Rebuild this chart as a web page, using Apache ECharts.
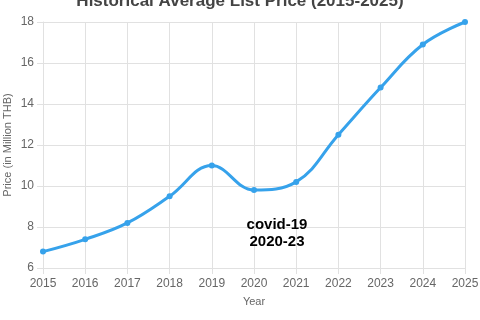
<!DOCTYPE html>
<html><head><meta charset="utf-8">
<script src="https://cdn.jsdelivr.net/npm/echarts@6/dist/echarts.min.js"></script>
<style>html,body{margin:0;padding:0;background:#fff}#c{width:480px;height:320px}</style>
</head><body><div id="c"></div>
<script>
const years = ['2015','2016','2017','2018','2019','2020','2021','2022','2023','2024','2025'];
const prices = [6.8, 7.4, 8.2, 9.5, 11.0, 9.8, 10.2, 12.5, 14.8, 16.9, 18.0];
const titleText = 'Historical Average List Price (2015-2025)';
const annotationLines = ['covid-19', '2020-23'];

const chart = echarts.init(document.getElementById('c'));
const grid = '#e1e1e1';
chart.setOption({
  animation: false,
  title: {text: titleText, left: 'center', top: -12,
    textStyle: {fontFamily: 'Liberation Sans', fontSize: 17, fontWeight: 'bold', color: '#444'}},
  grid: {left: 43, right: 15, top: 22, bottom: 52, containLabel: false, outerBoundsMode: 'none'},
  xAxis: {type: 'category', data: years, boundaryGap: false,
    name: 'Year', nameLocation: 'middle', nameGap: 28, nameMoveOverlap: false,
    nameTextStyle: {fontFamily: 'Liberation Sans', fontSize: 11, color: '#666'},
    axisLine: {lineStyle: {color: grid}},
    axisTick: {length: 6, lineStyle: {color: grid}, alignWithLabel: true},
    axisLabel: {fontFamily: 'Liberation Sans', fontSize: 12, color: '#666', margin: 10},
    splitLine: {show: true, lineStyle: {color: grid}}},
  yAxis: {type: 'value', min: 6, max: 18, interval: 2,
    name: 'Price (in Million THB)', nameLocation: 'middle', nameGap: 30, nameRotate: 90, nameMoveOverlap: false,
    nameTextStyle: {fontFamily: 'Liberation Sans', fontSize: 11, color: '#666'},
    axisLine: {show: true, lineStyle: {color: grid}},
    axisTick: {show: true, length: 6, lineStyle: {color: grid}},
    axisLabel: {fontFamily: 'Liberation Sans', fontSize: 12, color: '#666', margin: 9},
    splitLine: {show: true, lineStyle: {color: grid}}},
  series: [{type: 'line', data: prices, smooth: 0.4,
    lineStyle: {color: '#36A2EB', width: 3},
    itemStyle: {color: '#36A2EB'},
    symbol: 'circle', symbolSize: 6}],
  graphic: [{type: 'text', x: 277, y: 216, z: 100,
    style: {text: annotationLines.join('\n'), fontFamily: 'Liberation Sans', fontSize: 15, fontWeight: 'bold',
      fill: '#000', align: 'center', lineHeight: 17}}]
});
</script></body></html>
